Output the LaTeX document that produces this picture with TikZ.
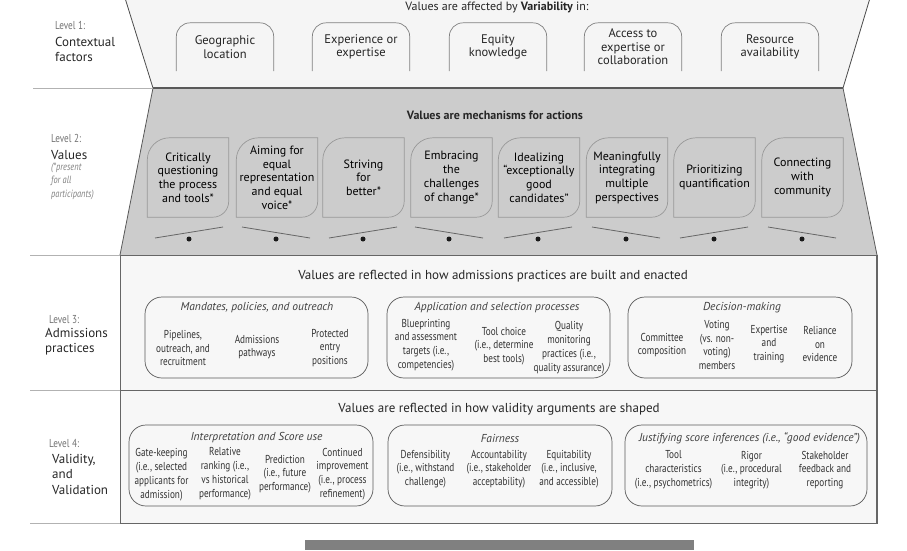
\documentclass[tikz,border=0pt]{standalone}
\usepackage{fontspec}
\setmainfont{PT Sans}
\newfontfamily\condfont[FakeStretch=0.8]{PT Sans}
\colorlet{lvlonefill}{black!4}
\colorlet{lvltwofill}{black!20}
\colorlet{lvlboxfill}{black!3}
\newcommand\leafoutline[1]{%
  \draw[leafline] (#1.south west) -- ([yshift=-22pt]#1.north west)
    .. controls ([yshift=-10pt]#1.north west) and ([xshift=10pt]#1.north west) .. ([xshift=22pt]#1.north west)
    -- (#1.north east) -- ([yshift=16pt]#1.south east)
    .. controls ([yshift=7pt]#1.south east) and ([xshift=-7pt]#1.south east) .. ([xshift=-16pt]#1.south east)
    -- cycle;}
\newcommand\capoutline[1]{%
  \draw[capline] (#1.south west) -- ([yshift=-14pt]#1.north west)
    .. controls ([yshift=-6pt]#1.north west) and ([xshift=6pt]#1.north west) .. ([xshift=14pt]#1.north west)
    -- ([xshift=-14pt]#1.north east)
    .. controls ([xshift=-6pt]#1.north east) and ([yshift=-6pt]#1.north east) .. ([yshift=-14pt]#1.north east)
    -- (#1.south east);}
\begin{document}
\begin{tikzpicture}[x=1pt,y=-1pt,
  l1box/.style={minimum width=97pt,minimum height=48pt,inner sep=0pt,align=center,
    font=\fontsize{12.5}{13.6}\selectfont,text=black!85},
  capline/.style={draw=black!50,line width=0.7pt},
  valbox/.style={minimum width=81pt,minimum height=79pt,inner sep=0pt,align=center,
    font=\fontsize{12}{13.7}\selectfont,text=black},
  leafline/.style={draw=black!40,line width=0.7pt},
  beam/.style={draw=black!60,line width=0.8pt},
  pivot/.style={circle,fill=black!90,inner sep=0pt,minimum size=5pt},
  grp/.style={draw=black!65,line width=0.7pt,rounded corners=17pt},
  grptitle/.style={inner sep=0pt,font=\itshape\fontsize{11.5}{13}\selectfont,text=black!75},
  item/.style={align=center,inner sep=0pt,font=\condfont\fontsize{11.5}{13.8}\selectfont,text=black!80},
  lvltag/.style={anchor=west,inner sep=0pt,font=\condfont\fontsize{11.5}{12}\selectfont,text=black!55},
  lvlname/.style={anchor=west,inner sep=0pt,align=left,font=\fontsize{13}{15.5}\selectfont,text=black!85},
  lvlnote/.style={anchor=west,inner sep=0pt,align=left,font=\condfont\itshape\fontsize{10.5}{13.5}\selectfont,text=black!50},
  heading/.style={inner sep=0pt,font=\fontsize{13}{15}\selectfont,text=black!85},
  sepline/.style={draw=black!30,line width=0.8pt}
]
\useasboundingbox (0,0) rectangle (907,550);
\clip (0,0) rectangle (907,550);

% ---------- backgrounds ----------
\fill[lvlonefill] (125,-2) -- (870,-2) -- (843,88) -- (153,88) -- cycle;
\draw[black!70,line width=0.8pt] (125,-2) -- (153,88);
\draw[black!70,line width=0.8pt] (870,-2) -- (843,88);
\fill[lvltwofill] (153,88) -- (843,88) -- (877,255) -- (120,255) -- cycle;
\draw[black!65,line width=0.8pt] (153,88) -- (120,255);
\draw[black!65,line width=0.8pt] (843,88) -- (877,255);
\draw[black!65,line width=1.6pt] (153,88) -- (843,88);
\draw[fill=lvlboxfill,draw=black!60,line width=1pt] (120,255) rectangle (877,390);
\draw[fill=lvlboxfill,draw=black!60,line width=1pt] (120,390) rectangle (877,523);
\draw[black!60,line width=1.6pt] (877,255) -- (877,523);

\draw[sepline] (33,88) -- (153,88);
\draw[sepline] (30,255) -- (120,255);
\draw[sepline] (30,390) -- (120,390);
\draw[sepline] (30,523) -- (120,523);

\fill[black!50] (305,540) rectangle (694,550);

% ---------- level labels ----------
\node[lvltag] (t1) at (55,25) {Level 1:};
\node[lvlname] (n1) at (55,49.5) {Contextual\\factors};
\node[lvltag] (t2) at (51,138) {Level 2:};
\node[lvlname] (n2) at (51,155) {Values};
\node[lvlnote] (m2) at (51,181) {(*present\\for all\\participants)};
\node[lvltag] (t3) at (49,320) {Level 3:};
\node[lvlname] (n3) at (45,341.5) {Admissions\\practices};
\node[lvltag] (t4) at (49,443) {Level 4:};
\node[lvlname] (n4) at (52,474) {Validity,\\and\\Validation};

% ---------- level 1 ----------
\node[heading,font=\fontsize{12}{14}\selectfont] (h1) at (497,7) {Values are affected by \textbf{Variability} in:};
\node[l1box] (c1) at (225,47) {Geographic\\location};
\node[l1box] (c2) at (361,47) {Experience or\\expertise};
\node[l1box] (c3) at (498,47) {Equity\\knowledge};
\node[l1box] (c4) at (633,47) {Access to\\expertise or\\collaboration};
\node[l1box] (c5) at (770,47) {Resource\\availability};
\capoutline{c1}\capoutline{c2}\capoutline{c3}\capoutline{c4}\capoutline{c5}

% ---------- level 2 ----------
\node[heading,font=\bfseries\fontsize{12}{14}\selectfont] (h2) at (495,115) {Values are mechanisms for actions};
\node[valbox] (v1) at (188,177.5) {Critically\\questioning\\the process\\and tools*};
\node[valbox] (v2) at (277,177.5) {Aiming for\\equal\\representation\\and equal\\voice*};
\node[valbox] (v3) at (363.5,177.5) {Striving\\for\\better*};
\node[valbox] (v4) at (451.5,177.5) {Embracing\\the\\challenges\\of change*};
\node[valbox] (v5) at (539,177.5) {Idealizing\\``exceptionally\\good\\candidates''};
\node[valbox] (v6) at (627,177.5) {Meaningfully\\integrating\\multiple\\perspectives};
\node[valbox] (v7) at (714.5,177.5) {Prioritizing\\quantification};
\node[valbox] (v8) at (802.5,177.5) {Connecting\\with\\community};
\foreach \v in {v1,v2,v3,v4,v5,v6,v7,v8} {\leafoutline{\v}}

\foreach \i/\cx/\lo/\hi in {1/189/238/227,2/276/227/238,3/363/238/227,4/449/227/238,5/538/238/227,6/626/227/238,7/714/238/227,8/802/227/238}{
  \draw[beam] (\cx-34,\lo) -- (\cx+34,\hi);
  \node[pivot] (p\i) at (\cx,239) {};
}

% ---------- level 3 ----------
\node[heading] (h3) at (493,276) {Values are reflected in how admissions practices are built and enacted};
\draw[grp] (145,297) rectangle (368,378);
\node[grptitle] (g31) at (257,308) {Mandates, policies, and outreach};
\node[item] (a1) at (183,348) {Pipelines,\\outreach, and\\recruitment};
\node[item] (a2) at (257,347) {Admissions\\pathways};
\node[item] (a3) at (330,348) {Protected\\entry\\positions};

\draw[grp] (387,297) rectangle (610,378);
\node[grptitle] (g32) at (497,308) {Application and selection processes};
\node[item] (b1) at (426,345) {Blueprinting\\and assessment\\targets (i.e.,\\competencies)};
\node[item] (b2) at (504,346) {Tool choice\\(i.e., determine\\best tools)};
\node[item] (b3) at (569,347.5) {Quality\\monitoring\\practices (i.e.,\\quality assurance)};

\draw[grp] (628,297) rectangle (852,378);
\node[grptitle] (g33) at (742,308) {Decision-making};
\node[item] (d1) at (662,345) {Committee\\composition};
\node[item] (d2) at (717,345) {Voting\\(vs. non-\\voting)\\members};
\node[item] (d3) at (769,344) {Expertise\\and\\training};
\node[item] (d4) at (820,344) {Reliance\\on\\evidence};

% ---------- level 4 ----------
\node[heading] (h4) at (499,409) {Values are reflected in how validity arguments are shaped};
\draw[grp] (129,425) rectangle (373,506);
\node[grptitle] (g41) at (256.5,438) {Interpretation and Score use};
\node[item] (e1) at (161.5,474.5) {Gate-keeping\\(i.e., selected\\applicants for\\admission)};
\node[item] (e2) at (225,473.5) {Relative\\ranking (i.e.,\\vs historical\\performance)};
\node[item] (e3) at (285,474) {Prediction\\(i.e., future\\performance)};
\node[item] (e4) at (342.5,474) {Continued\\improvement\\(i.e., process\\refinement)};

\draw[grp] (388,425) rectangle (612,506);
\node[grptitle] (g42) at (500,438) {Fairness};
\node[item] (f1) at (425.5,469) {Defensibility\\(i.e., withstand\\challenge)};
\node[item] (f2) at (499,469) {Accountability\\(i.e., stakeholder\\acceptability)};
\node[item] (f3) at (569,469) {Equitability\\(i.e., inclusive,\\and accessible)};

\draw[grp] (625,425) rectangle (867,506);
\node[grptitle] (g43) at (749.5,438) {Justifying score inferences (i.e., ``good evidence'')};
\node[item] (j1) at (673.5,470) {Tool\\characteristics\\(i.e., psychometrics)};
\node[item] (j2) at (751.5,470) {Rigor\\(i.e., procedural\\integrity)};
\node[item] (j3) at (825,470) {Stakeholder\\feedback and\\reporting};
\end{tikzpicture}
\end{document}
